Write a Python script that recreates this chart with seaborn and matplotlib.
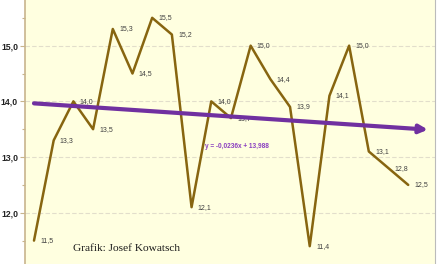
import matplotlib
matplotlib.use("Agg")
import matplotlib.pyplot as plt
import seaborn as sns
import pandas as pd
import numpy as np
from matplotlib.ticker import MultipleLocator, FuncFormatter

# Data
values = [11.5, 13.3, 14.0, 13.5, 15.3, 14.5, 15.5, 15.2, 12.1, 14.0,
          13.7, 15.0, 14.4, 13.9, 11.4, 14.1, 15.0, 13.1, 12.8, 12.5]
positions = list(range(1, len(values) + 1))
trend_slope = -0.0236
trend_intercept = 13.988
trend_label = "y = -0,0236x + 13,988"
credit = "Grafik: Josef Kowatsch"
yticks = [12, 13, 14, 15]

df = pd.DataFrame({"x": positions, "y": values})

sns.set_theme(style="white")
fig = plt.figure(figsize=(4.4, 2.64), dpi=100, facecolor="white")
ax = fig.add_axes([25 / 440, 0, 410 / 440, 1])
ax.set_facecolor("#FFFFE0")

# gridlines
for t in yticks:
    ax.axhline(t, color="#E2DECB", lw=0.8, ls=(0, (4, 2)), zorder=0)

sns.lineplot(data=df, x="x", y="y", ax=ax, color="#876510", lw=1.8, zorder=3)

# data labels
for x, y in zip(positions, values):
    ax.annotate(f"{y:.1f}".replace(".", ","), (x, y), xytext=(4.5, 0),
                textcoords="offset points", ha="left", va="center",
                fontsize=5, color="#404040", family="Liberation Sans", zorder=2)

# trend arrow
x0, x1 = 1, 21
ax.annotate("", xy=(x1, trend_slope * x1 + trend_intercept),
            xytext=(x0, trend_slope * x0 + trend_intercept),
            arrowprops=dict(arrowstyle="-|>", lw=3, color="#7030A0",
                            mutation_scale=12, shrinkA=0, shrinkB=0),
            zorder=4)

ax.text(9.68, 13.185, trend_label, color="#8A3FC0", fontsize=4.7,
        fontweight="bold", family="Liberation Sans", ha="left", va="center")
ax.text(2.96, 11.35, credit, color="#1a1a1a", fontsize=8.2,
        family="Liberation Serif", ha="left", va="center")

ax.set_xlim(0.543, 21.36)
ax.set_ylim(11.08, 15.82)
ax.set_xticks([])
ax.set_yticks(yticks)
ax.yaxis.set_minor_locator(MultipleLocator(0.5))
ax.yaxis.set_major_formatter(FuncFormatter(lambda v, p: f"{v:.1f}".replace(".", ",")))
ax.tick_params(axis="y", which="major", left=True, length=3.5, width=0.8,
               color="#C8B48C", labelsize=6.2, pad=1.5, labelcolor="#222222")
ax.tick_params(axis="y", which="minor", left=True, length=2.5, width=0.8,
               color="#C8B48C")
for lab in ax.get_yticklabels():
    lab.set_fontweight("bold")
    lab.set_family("Liberation Sans")
ax.set_xlabel("")
ax.set_ylabel("")

for s in ["top", "bottom"]:
    ax.spines[s].set_visible(False)
ax.spines["left"].set_color("#C8B48C")
ax.spines["left"].set_linewidth(1.2)
ax.spines["right"].set_color("#BBBBBB")
ax.spines["right"].set_linewidth(0.8)

fig.savefig("out.png", dpi=100, facecolor="white")
